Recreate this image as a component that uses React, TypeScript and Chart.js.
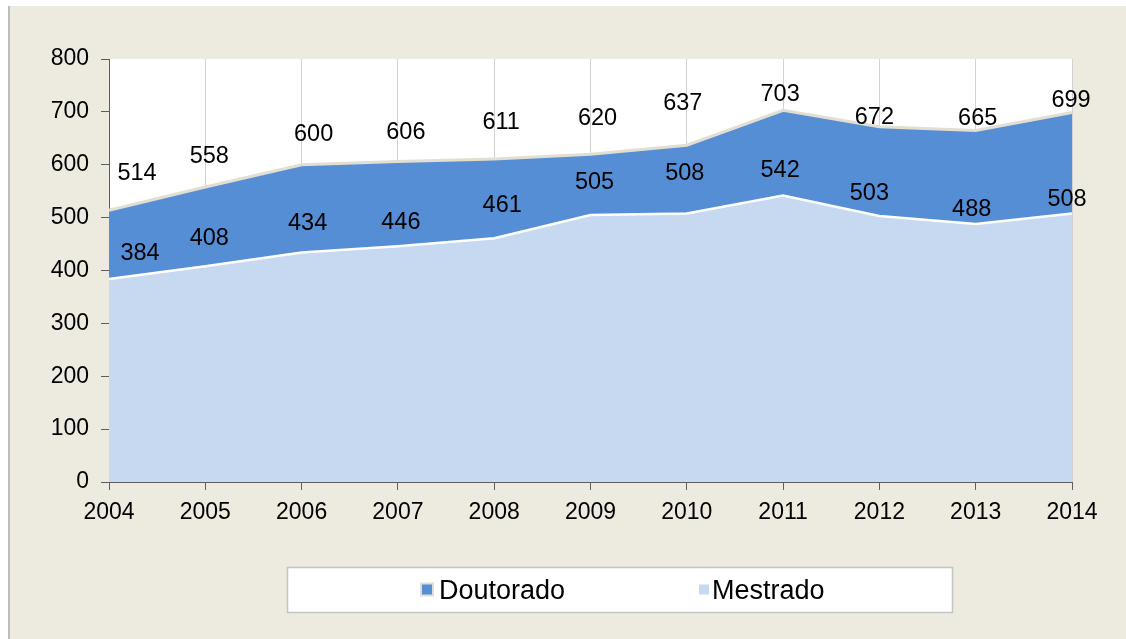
import React, { useEffect, useRef } from "react";
import { Chart, registerables } from "chart.js";

Chart.register(...registerables);

// ---- data ----
const years = ["2004", "2005", "2006", "2007", "2008", "2009", "2010", "2011", "2012", "2013", "2014"];
const mestrado = [384, 408, 434, 446, 461, 505, 508, 542, 503, 488, 508];
// cumulative (stacked) totals shown as Doutorado labels
const doutoradoTotal = [514, 558, 600, 606, 611, 620, 637, 703, 672, 665, 699];
const yMin = 0;
const yMax = 800;
const yStep = 100;

// ---- label placement (px offsets from each point) ----
const totalLabelDx = [28, 4, 12, 8, 7, 7, -4, -3, -5, 2, -1];
const totalLabelDy = [-39, -32, -32, -31, -38, -38, -44, -18, -11, -14, -14];
const mestradoLabelDx = [31, 4, 6, 3, 8, 4, -2, -3, -10, -4, -5];
const mestradoLabelDy = [-27, -30, -31, -26, -35, -34, -42, -27, -24, -16, -16];

// ---- styles ----
const FAMILY = "'Liberation Sans', Arial, sans-serif";
const BG = "#EDEAE0";
const AXIS = "#5E5E5E";
const GRID = "#D2D2D2";
const DOUT_FILL = "#558ED5";
const DOUT_LINE = "#E2DED1";
const MEST_FILL = "#C6D9F1";
const MEST_LINE = "#FFFFFF";

const plotBgPlugin = {
  id: "plotBg",
  beforeDraw(chart: any) {
    const { ctx, chartArea } = chart;
    ctx.save();
    ctx.fillStyle = "#FFFFFF";
    ctx.fillRect(chartArea.left, chartArea.top, chartArea.right - chartArea.left, chartArea.bottom - chartArea.top);
    ctx.restore();
  },
};

const valueLabelPlugin = {
  id: "valueLabels",
  afterDatasetsDraw(chart: any) {
    const { ctx } = chart;
    const size = 23.5;
    const offsets = [
      { dx: totalLabelDx, dy: totalLabelDy },
      { dx: mestradoLabelDx, dy: mestradoLabelDy },
    ];
    ctx.save();
    ctx.font = `${size}px ${FAMILY}`;
    ctx.fillStyle = "#000000";
    ctx.textAlign = "center";
    ctx.textBaseline = "alphabetic";
    chart.data.datasets.forEach((ds: any, di: number) => {
      const meta = chart.getDatasetMeta(di);
      const off = offsets[di];
      meta.data.forEach((pt: any, i: number) => {
        ctx.fillText(String(ds.data[i]), pt.x + off.dx[i], pt.y + off.dy[i] + size * 0.358);
      });
    });
    ctx.restore();
  },
};

const boxLegendPlugin = {
  id: "boxLegend",
  afterDraw(chart: any) {
    const { ctx } = chart;
    const box = { x: 277, y: 561, w: 665, h: 45 };
    const items = [
      { marker: 411, text: 429 },
      { marker: 688, text: 702 },
    ];
    const cy = 583.5;
    const size = 27;
    ctx.save();
    ctx.fillStyle = "#FFFFFF";
    ctx.fillRect(box.x, box.y, box.w, box.h);
    ctx.strokeStyle = "#C4C4C4";
    ctx.lineWidth = 1.5;
    ctx.strokeRect(box.x + 0.5, box.y + 0.5, box.w, box.h);
    ctx.font = `${size}px ${FAMILY}`;
    ctx.textAlign = "left";
    ctx.textBaseline = "alphabetic";
    chart.data.datasets.forEach((ds: any, i: number) => {
      const it = items[i];
      const m = 12;
      ctx.fillStyle = ds.backgroundColor;
      ctx.fillRect(it.marker, cy - m / 2, m, m);
      ctx.strokeStyle = ds.borderColor;
      ctx.lineWidth = 2;
      ctx.strokeRect(it.marker, cy - m / 2, m, m);
      ctx.fillStyle = "#000000";
      ctx.fillText(ds.label, it.text, cy + size * 0.358);
    });
    ctx.restore();
  },
};

export default function App() {
  const canvasRef = useRef<HTMLCanvasElement | null>(null);

  useEffect(() => {
    if (!canvasRef.current) return;
    const chart = new Chart(canvasRef.current, {
      type: "line",
      data: {
        labels: years,
        datasets: [
          {
            label: "Doutorado",
            data: doutoradoTotal,
            fill: "+1",
            backgroundColor: DOUT_FILL,
            borderColor: DOUT_LINE,
            borderWidth: 3,
            pointRadius: 0,
            tension: 0,
          },
          {
            label: "Mestrado",
            data: mestrado,
            fill: "origin",
            backgroundColor: MEST_FILL,
            borderColor: MEST_LINE,
            borderWidth: 2.5,
            pointRadius: 0,
            tension: 0,
          },
        ],
      },
      options: {
        responsive: false,
        animation: false,
        devicePixelRatio: 1,
        layout: { padding: { top: 53, right: 54, left: 0, bottom: 0 } },
        plugins: {
          legend: { display: false },
          tooltip: { enabled: false },
          filler: { drawTime: "beforeDatasetsDraw" },
        } as any,
        scales: {
          x: {
            grid: { color: GRID, tickColor: AXIS, tickLength: 8, lineWidth: 1 },
            border: { display: true, color: AXIS, width: 1 },
            ticks: {
              color: "#000000",
              font: { size: 23, family: FAMILY },
              padding: 9,
              maxRotation: 0,
              autoSkip: false,
            },
            afterFit: (s: any) => {
              s.height = 157;
            },
          },
          y: {
            min: yMin,
            max: yMax,
            grid: { drawOnChartArea: false, tickColor: AXIS, tickLength: 8 },
            border: { display: true, color: AXIS, width: 1 },
            ticks: {
              stepSize: yStep,
              color: "#000000",
              font: { size: 23, family: FAMILY },
              padding: 12,
            },
            afterFit: (s: any) => {
              s.width = 99;
            },
          },
        },
      },
      plugins: [plotBgPlugin, valueLabelPlugin, boxLegendPlugin],
    });
    return () => chart.destroy();
  }, []);

  return (
    <div
      style={{
        position: "absolute",
        left: 8,
        top: 6,
        width: 1118,
        height: 633,
        background: BG,
        borderLeft: "2px solid #BDBDBD",
        boxSizing: "border-box",
      }}
    >
      <canvas ref={canvasRef} width={1116} height={633} style={{ display: "block", width: 1116, height: 633 }} />
    </div>
  );
}
